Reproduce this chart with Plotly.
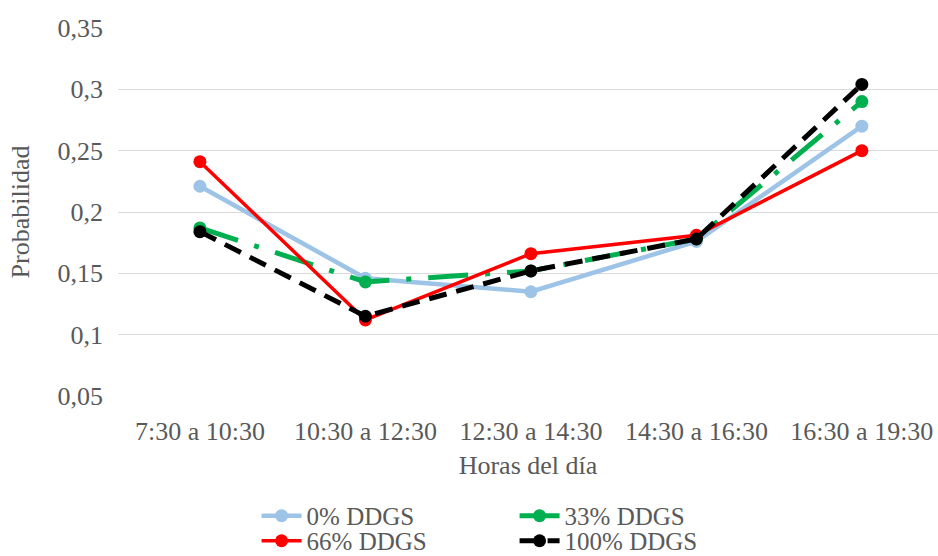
import plotly.graph_objects as go

horas = ["7:30 a 10:30", "10:30 a 12:30", "12:30 a 14:30", "14:30 a 16:30", "16:30 a 19:30"]
ddgs_0 = [0.221, 0.146, 0.135, 0.176, 0.270]
ddgs_33 = [0.187, 0.143, 0.152, 0.178, 0.290]
ddgs_66 = [0.241, 0.112, 0.166, 0.181, 0.250]
ddgs_100 = [0.184, 0.115, 0.152, 0.178, 0.304]

font_family = "Liberation Serif, Times New Roman, serif"
grey_text = "#595959"

fig = go.Figure()
# name, values, colour, dash pattern, line width, legend row
series = [
    ("0% DDGS", ddgs_0, "#9dc3e6", "solid", 4.5, "legend"),
    ("33% DDGS", ddgs_33, "#00b050", "40px,17px,5px,17px", 5, "legend"),
    ("66% DDGS", ddgs_66, "#ff0000", "solid", 3.5, "legend2"),
    ("100% DDGS", ddgs_100, "#000000", "18px,10px", 5, "legend2"),
]
for name, vals, color, dash, width, leg in series:
    fig.add_trace(go.Scatter(
        x=horas, y=vals, name=name, mode="lines+markers",
        line=dict(color=color, width=width, dash=dash),
        marker=dict(color=color, size=13),
        legend=leg,
    ))

legend_common = dict(
    orientation="h", xanchor="left", yanchor="middle",
    entrywidth=203, entrywidthmode="pixels", itemwidth=40,
    font=dict(size=25, color=grey_text, family=font_family),
    bgcolor="rgba(0,0,0,0)",
)

fig.update_layout(
    width=938, height=556,
    margin=dict(l=118, r=0, t=28, b=160, autoexpand=False),
    paper_bgcolor="white", plot_bgcolor="white",
    font=dict(family=font_family, color=grey_text, size=26),
    separators=", ",
    xaxis=dict(
        title=dict(text="Horas del día", font=dict(size=26), standoff=10),
        range=[-0.495, 4.46], showgrid=False, showline=False, ticks="",
        tickfont=dict(size=26), ticklabelstandoff=17, automargin=False,
    ),
    yaxis=dict(
        title=dict(text="Probabilidad", font=dict(size=26), standoff=20),
        range=[0.05, 0.35], dtick=0.05, tick0=0.05,
        showgrid=True, gridcolor="#d9d9d9", gridwidth=1,
        zeroline=False, showline=False, ticks="",
        tickformat=".2~f", tickfont=dict(size=26),
        ticklabelstandoff=14, automargin=False,
    ),
    legend=dict(x=0.169, y=-0.326, **legend_common),
    legend2=dict(x=0.169, y=-0.394, **legend_common),
    showlegend=True,
)

fig.write_html("out.html")
